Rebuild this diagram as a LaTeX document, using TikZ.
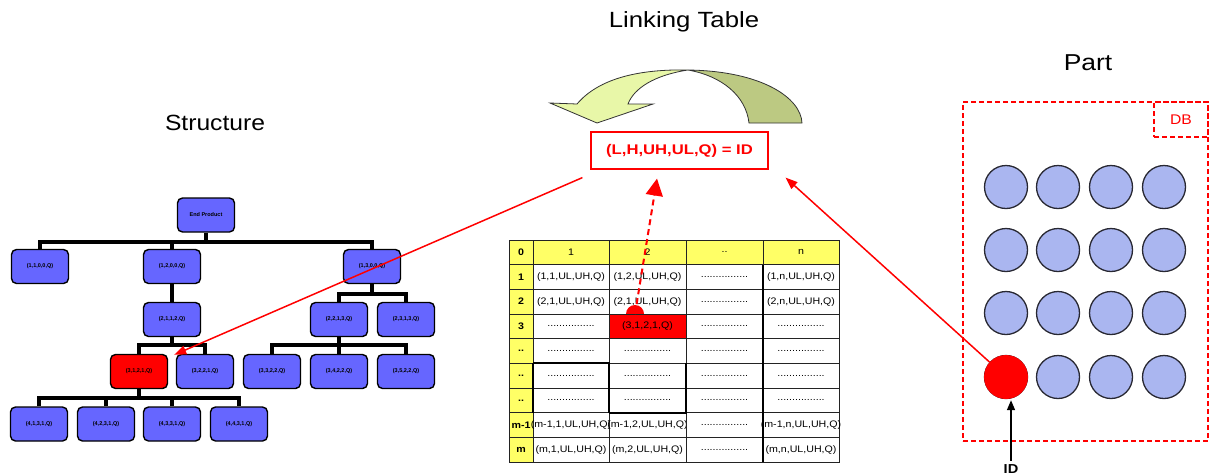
\documentclass[tikz,border=0pt]{standalone}
\usepackage{graphicx}
\usepackage{fontspec}
\setmainfont{Liberation Sans}
\usetikzlibrary{arrows.meta,backgrounds,calc}

\definecolor{treeblue}{RGB}{102,102,255}
\definecolor{partblue}{RGB}{170,182,240}
\definecolor{hdryellow}{RGB}{255,255,102}
\definecolor{arrowlight}{RGB}{232,247,168}
\definecolor{arrowdark}{RGB}{188,201,130}
\definecolor{gridgray}{RGB}{35,35,35}
\definecolor{ringgray}{RGB}{40,40,50}

% stretched sans text used throughout
\newcommand\wide[2][1.12]{\scalebox{#1}[1]{#2}}
\newcommand\celltxt[1]{\makebox[0pt]{\wide{#1}}}
\newcommand\dotsrow{................}

% one row of the linking table: row index, label, four entries
\newcommand\tabrow[6]{%
  \pgfmathsetmacro\ry{252.33+24.67*#1}%
  \node[hcell,minimum width=24pt,font=\fontsize{9.5}{10}\selectfont\bfseries] (t#1-0) at (521,\ry) {\celltxt{#2}};
  \node[cell,minimum width=76pt] (t#1-1) at (571,\ry) {\celltxt{#3}};
  \node[cell,minimum width=77pt] (t#1-2) at (647.5,\ry) {\celltxt{#4}};
  \node[cell,minimum width=77pt] (t#1-3) at (724.5,\ry) {\celltxt{#5}};
  \node[cell,minimum width=76pt] (t#1-4) at (801,\ry) {\celltxt{#6}};
}

\begin{document}
\begin{tikzpicture}[x=1pt,y=-1pt,
  tnode/.style={draw=black,line width=1.4pt,rounded corners=5pt,fill=treeblue,
    minimum width=57pt,minimum height=34pt,inner sep=0pt,
    font=\fontsize{5.5}{6}\selectfont\bfseries},
  conn/.style={line width=4pt,black},
  cell/.style={draw=gridgray,line width=1pt,fill=white,minimum height=24.67pt,
    inner sep=0pt,outer sep=0pt,font=\fontsize{9.5}{10}\selectfont},
  hcell/.style={cell,fill=hdryellow},
  thickline/.style={draw=black,line width=1.9pt},
  title/.style={font=\fontsize{22}{24}\selectfont,anchor=base,inner sep=0pt},
  redarr/.style={draw=red,line width=1.5pt,-{Triangle[length=12pt,width=9pt]}},
  dasharr/.style={draw=red,line width=2pt,dash pattern=on 6pt off 4pt,
    -{Triangle[length=17pt,width=17pt]}},
  blackarr/.style={draw=black,line width=1.6pt,-{Triangle[length=10pt,width=8pt]}},
  disc/.style={circle,draw=ringgray,line width=1.3pt,fill=partblue,minimum size=43pt,inner sep=0pt},
  dbbox/.style={draw=red,line width=1.1pt,dash pattern=on 5pt off 3pt},
]
\useasboundingbox (0,0) rectangle (1210,475);

% ---------- titles ----------
\node[title] (ttable) at (684,27) {\wide[1.17]{Linking Table}};
\node[title,font=\fontsize{23}{25}\selectfont] (tpart) at (1088,70) {\wide[1.15]{Part}};
\node[title] (tstruct) at (215,130) {\wide[1.12]{Structure}};

% ---------- product structure tree ----------
\node[tnode] (ep) at (206,215) {End Product};
\node[tnode] (a1) at (40,266.5)  {(1,1,0,0,Q)};
\node[tnode] (a2) at (172,266.5) {(1,2,0,0,Q)};
\node[tnode] (a3) at (372,266.5) {(1,3,0,0,Q)};
\node[tnode] (b1) at (172,319.5) {(2,1,1,2,Q)};
\node[tnode] (b2) at (339,319.5) {(2,2,1,3,Q)};
\node[tnode] (b3) at (406,319.5) {(2,3,1,3,Q)};
\node[tnode,fill=red] (c1) at (139,371.5) {(3,1,2,1,Q)};
\node[tnode] (c2) at (205,371.5) {(3,2,2,1,Q)};
\node[tnode] (c3) at (272,371.5) {(3,3,2,2,Q)};
\node[tnode] (c4) at (339,371.5) {(3,4,2,2,Q)};
\node[tnode] (c5) at (406,371.5) {(3,5,2,2,Q)};
\node[tnode] (d1) at (39,424)  {(4,1,3,1,Q)};
\node[tnode] (d2) at (106,424) {(4,2,3,1,Q)};
\node[tnode] (d3) at (172,424) {(4,3,3,1,Q)};
\node[tnode] (d4) at (239,424) {(4,4,3,1,Q)};

\begin{scope}[on background layer]
  % level 0 -> 1
  \draw[conn] (ep.south) -- (ep.south |- 0,242);
  \draw[conn] (a1.north) -- (a1.north |- 0,242) -- (a3.north |- 0,242) -- (a3.north);
  \draw[conn] (a2.north) -- (a2.north |- 0,242);
  % level 1 -> 2
  \draw[conn] (a2.south) -- (b1.north);
  \draw[conn] (a3.south) -- (a3.south |- 0,294);
  \draw[conn] (b2.north) -- (b2.north |- 0,294) -- (b3.north |- 0,294) -- (b3.north);
  % level 2 -> 3
  \draw[conn] (b1.south) -- (b1.south |- 0,345);
  \draw[conn] (c1.north) -- (c1.north |- 0,345) -- (c2.north |- 0,345) -- (c2.north);
  \draw[conn] (b2.south) -- (c4.north);
  \draw[conn] (c3.north) -- (c3.north |- 0,345) -- (c5.north |- 0,345) -- (c5.north);
  % level 3 -> 4
  \draw[conn] (c1.south) -- (c1.south |- 0,398);
  \draw[conn] (d1.north) -- (d1.north |- 0,398) -- (d4.north |- 0,398) -- (d4.north);
  \draw[conn] (d2.north) -- (d2.north |- 0,398);
  \draw[conn] (d3.north) -- (d3.north |- 0,398);
\end{scope}

% ---------- linking table ----------
\pgfmathsetmacro\ry{252.33}
\node[hcell,minimum width=24pt,font=\fontsize{9.5}{10}\selectfont\bfseries] (t0-0) at (521,\ry) {\celltxt{0}};
\node[hcell,minimum width=76pt] (t0-1) at (571,\ry) {\celltxt{1}};
\node[hcell,minimum width=77pt] (t0-2) at (647.5,\ry) {\celltxt{2}};
\node[hcell,minimum width=77pt] (t0-3) at (724.5,\ry) {\celltxt{..}};
\node[hcell,minimum width=76pt] (t0-4) at (801,\ry) {\celltxt{n}};
\tabrow{1}{1}{(1,1,UL,UH,Q)}{(1,2,UL,UH,Q)}{\dotsrow}{(1,n,UL,UH,Q)}
\tabrow{2}{2}{(2,1,UL,UH,Q)}{(2,1,UL,UH,Q)}{\dotsrow}{(2,n,UL,UH,Q)}
\tabrow{3}{3}{\dotsrow}{}{\dotsrow}{\dotsrow}
\tabrow{4}{..}{\dotsrow}{\dotsrow}{\dotsrow}{\dotsrow}
\tabrow{5}{..}{\dotsrow}{\dotsrow}{\dotsrow}{\dotsrow}
\tabrow{6}{..}{\dotsrow}{\dotsrow}{\dotsrow}{\dotsrow}
\tabrow{7}{m-1}{(m-1,1,UL,UH,Q)}{(m-1,2,UL,UH,Q)}{\dotsrow}{(m-1,n,UL,UH,Q)}
\tabrow{8}{m}{(m,1,UL,UH,Q)}{(m,2,UL,UH,Q)}{\dotsrow}{(m,n,UL,UH,Q)}
% heavier rules inside the grid
\draw[thickline] (t1-4.north west) -- (t8-4.south west);
\draw[thickline] (t5-1.north west) -- (t5-1.north east) -- (t6-1.south east);
\draw[thickline] (t5-0.north east) -- (t6-0.south east);
\draw[thickline] (t5-2.north east) -- (t6-2.south east) -- (t6-2.south west);
% selected entry
\node[circle,fill=red,minimum size=18pt,inner sep=0pt] (dot) at (635,314) {};
\node[cell,fill=red,minimum width=77pt] (tred) at (t3-2) {\celltxt{(3,1,2,1,Q)}};

% ---------- formula box and twisted arrow ----------
\node[draw=red,line width=1.2pt,minimum width=177pt,minimum height=37pt,inner sep=0pt,
  text=red,font=\fontsize{14}{16}\selectfont\bfseries] (F) at (679.5,150.5)
  {\wide[1.19]{(L,H,UH,UL,Q) = ID}};

\fill[arrowdark,draw=black!80,line width=0.8pt]
  (688,70) .. controls (762,71) and (801,98) .. (802,123)
  -- (749,123) .. controls (746,96) and (722,76) .. (688,70) -- cycle;
\fill[arrowlight,draw=black!80,line width=0.8pt]
  (597,123) -- (653,104) -- (628,104)
  .. controls (634,88) and (655,75) .. (688,70)
  .. controls (640,69) and (599,78) .. (577,104)
  -- (550,103) -- cycle;

% ---------- part database ----------
\node[dbbox,minimum width=245pt,minimum height=339pt,inner sep=0pt] (part) at (1085.5,271.5) {};
\node[dbbox,minimum width=54pt,minimum height=35pt,inner sep=0pt,text=red,
  font=\fontsize{14}{16}\selectfont] (dblabel) at (1181,119.5) {\wide[1.12]{DB}};

\foreach \i/\y in {1/187,2/250,3/313,4/377}{
  \foreach \j/\x in {1/1006,2/1058,3/1111,4/1164}{
    \node[disc] (p\i\j) at (\x,\y) {};
  }
}
\node[circle,fill=red,minimum size=44pt,inner sep=0pt] (p41) at (1006,377) {};

\node[anchor=base,inner sep=0pt,font=\fontsize{13}{14}\selectfont\bfseries] (idl) at (1011,473) {\wide[1.12]{ID}};
\draw[blackarr] ([yshift=3pt]idl.north) -- ([xshift=5pt,yshift=-1pt]p41.south);

% ---------- links to the ID ----------
\draw[redarr] ([xshift=-8pt,yshift=-8pt]F.south west) -- ([xshift=6pt,yshift=-1pt]c1.north east);
\draw[dasharr] (dot.center) -- ([xshift=-22.5pt,yshift=-9pt]F.south);
\draw[redarr] (p41) -- ([xshift=17pt,yshift=-8pt]F.south east);

\end{tikzpicture}
\end{document}
